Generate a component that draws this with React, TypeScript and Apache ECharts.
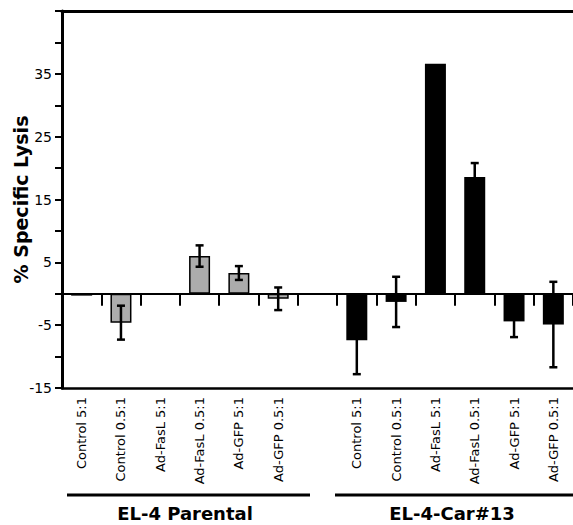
import React, { useEffect, useRef } from 'react';
import * as echarts from 'echarts';

const conditions = ['Control 5:1', 'Control 0.5:1', 'Ad-FasL 5:1', 'Ad-FasL 0.5:1', 'Ad-GFP 5:1', 'Ad-GFP 0.5:1'];
const groups = ['EL-4 Parental', 'EL-4-Car#13'];
const parentalMean = [-0.3, -4.6, 0, 6.0, 3.3, -0.8];
const parentalErr = [0, 2.7, 0, 1.7, 1.1, 1.8];
const car13Mean = [-7.4, -1.3, 36.6, 18.6, -4.4, -4.9];
const car13Err = [5.4, 4.0, 0, 2.2, 2.5, 6.8];
const yTickLabels = [-15, -5, 5, 15, 25, 35];

const FONT = '"DejaVu Sans", "Liberation Sans", sans-serif';

export default function App() {
  const ref = useRef<HTMLDivElement>(null);
  useEffect(() => {
    if (!ref.current) return;
    const chart = echarts.init(ref.current, undefined, { renderer: 'svg' });
    const categories = [...conditions, '', ...conditions];
    const n = conditions.length;
    const parentalData = categories.map((_, i) => (i < n ? parentalMean[i] : '-'));
    const car13Data = categories.map((_, i) => (i > n ? car13Mean[i - n - 1] : '-'));
    const errData: number[][] = [];
    parentalMean.forEach((m, i) => errData.push([i, m, parentalErr[i]]));
    car13Mean.forEach((m, i) => errData.push([i + n + 1, m, car13Err[i]]));

    const option: any = {
      animation: false,
      backgroundColor: '#fff',
      grid: { left: 62, right: 0, top: 11, bottom: 137, outerBoundsMode: 'none' },
      xAxis: [
        {
          type: 'category',
          data: categories,
          position: 'bottom',
          axisLine: { show: true, onZero: true, lineStyle: { color: '#000', width: 2 } },
          axisTick: { show: true, alignWithLabel: false, interval: 0, length: 12, lineStyle: { color: '#000', width: 2 } },
          axisLabel: { show: false },
          splitLine: { show: false },
        },
        {
          type: 'category',
          data: categories,
          position: 'bottom',
          axisLine: { show: true, onZero: false, lineStyle: { color: '#000', width: 2.5 } },
          axisTick: { show: false },
          axisLabel: { show: true, interval: 0, rotate: 90, margin: 9, fontSize: 13, fontFamily: FONT, color: '#000' },
          splitLine: { show: false },
        },
        {
          type: 'category',
          data: categories,
          position: 'top',
          axisLine: { show: true, onZero: false, lineStyle: { color: '#000', width: 3 } },
          axisTick: { show: false },
          axisLabel: { show: false },
          splitLine: { show: false },
        },
      ],
      yAxis: {
        type: 'value',
        min: -15,
        max: 45,
        interval: 5,
        name: '% Specific Lysis',
        nameLocation: 'middle',
        nameGap: 32,
        nameMoveOverlap: false,
        nameTextStyle: { fontSize: 19, fontWeight: 'bold', fontFamily: FONT, color: '#000' },
        axisLine: { show: true, lineStyle: { color: '#000', width: 3 } },
        axisTick: { show: true, length: 7, lineStyle: { color: '#000', width: 2 } },
        axisLabel: {
          margin: 10,
          fontSize: 14,
          fontFamily: FONT,
          color: '#000',
          formatter: (v: number) => (yTickLabels.includes(v) ? String(v) : ''),
        },
        splitLine: { show: false },
      },
      series: [
        {
          type: 'bar',
          name: groups[0],
          data: parentalData,
          barWidth: 21,
          barGap: '-100%',
          itemStyle: { color: '#acacac', borderColor: '#000', borderWidth: 1.5 },
        },
        {
          type: 'bar',
          name: groups[1],
          data: car13Data,
          barWidth: 21,
          barGap: '-100%',
          itemStyle: { color: '#000' },
        },
        {
          type: 'custom',
          data: errData,
          encode: { x: 0, y: 1 },
          z: 5,
          renderItem: (params: any, api: any) => {
            const x = api.value(0);
            const m = api.value(1);
            const e = api.value(2);
            if (!e) return null;
            const top = api.coord([x, m + e]);
            const bot = api.coord([x, m - e]);
            const hw = 4;
            const st = { stroke: '#000', lineWidth: 2.5 };
            return {
              type: 'group',
              children: [
                { type: 'line', shape: { x1: top[0], y1: top[1], x2: bot[0], y2: bot[1] }, style: st },
                { type: 'line', shape: { x1: top[0] - hw, y1: top[1], x2: top[0] + hw, y2: top[1] }, style: st },
                { type: 'line', shape: { x1: bot[0] - hw, y1: bot[1], x2: bot[0] + hw, y2: bot[1] }, style: st },
              ],
            };
          },
        },
      ],
      graphic: [
        { type: 'line', shape: { x1: 67, y1: 495, x2: 310, y2: 495 }, style: { stroke: '#000', lineWidth: 3 } },
        { type: 'line', shape: { x1: 335, y1: 495, x2: 573, y2: 495 }, style: { stroke: '#000', lineWidth: 3 } },
        {
          type: 'text', x: 185, y: 513,
          style: { text: groups[0], fill: '#000', fontSize: 18, fontWeight: 'bold', fontFamily: FONT, align: 'center', verticalAlign: 'middle' },
        },
        {
          type: 'text', x: 452, y: 513,
          style: { text: groups[1], fill: '#000', fontSize: 18, fontWeight: 'bold', fontFamily: FONT, align: 'center', verticalAlign: 'middle' },
        },
      ],
    };
    chart.setOption(option);
    return () => chart.dispose();
  }, []);
  return <div ref={ref} style={{ position: 'fixed', left: 0, top: 0, width: 573, height: 525 }} />;
}
